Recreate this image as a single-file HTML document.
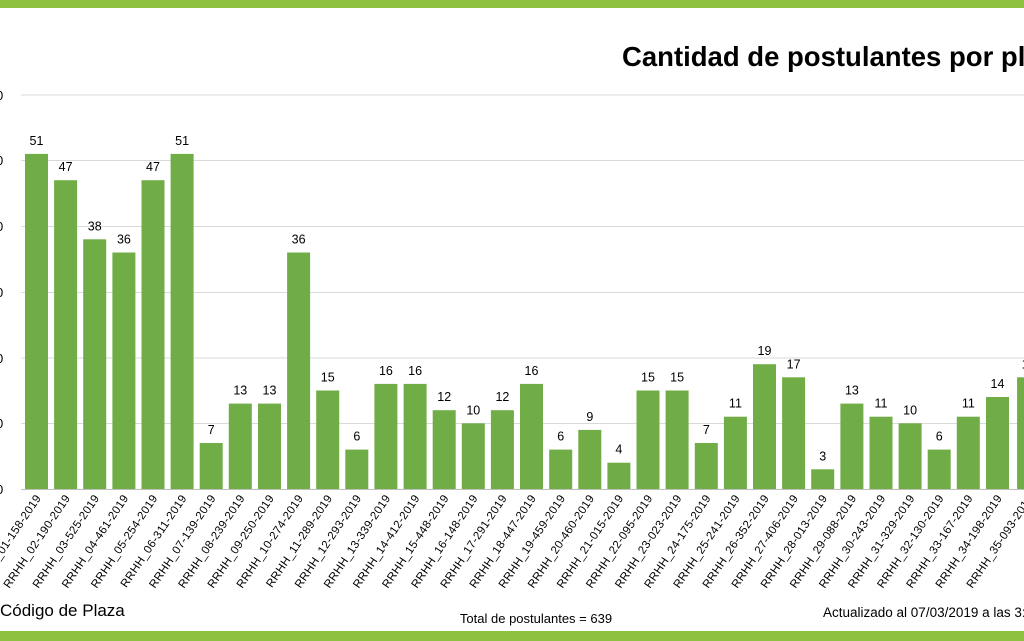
<!DOCTYPE html>
<html><head><meta charset="utf-8"><style>
html,body{margin:0;padding:0;background:#fff;overflow:hidden}
svg{display:block;font-family:"Liberation Sans",sans-serif}
.b rect{fill:#70ad47}
.v{font-size:12.5px;text-anchor:middle;fill:#000}
.l{font-size:11.5px;text-anchor:end;fill:#000;letter-spacing:0.3px}
</style></head><body>
<svg width="1024" height="641" viewBox="0 0 1024 641" xmlns="http://www.w3.org/2000/svg">
<rect x="0" y="0" width="1024" height="8" fill="#8dc13f"/>
<rect x="0" y="631" width="1024" height="10" fill="#8dc13f"/>
<text x="622" y="66" font-size="27.5" font-weight="bold" fill="#000">Cantidad de postulantes por plaza</text>
<g stroke="#d9d9d9" stroke-width="1">
<line x1="21" y1="95" x2="1024" y2="95"/><line x1="21" y1="160.5" x2="1024" y2="160.5"/>
<line x1="21" y1="226.5" x2="1024" y2="226.5"/><line x1="21" y1="292.5" x2="1024" y2="292.5"/>
<line x1="21" y1="358" x2="1024" y2="358"/><line x1="21" y1="423.5" x2="1024" y2="423.5"/>
</g>
<line x1="21" y1="489.5" x2="1024" y2="489.5" stroke="#bfbfbf"/>
<g font-size="13" fill="#000">
<text x="-4" y="100">0</text><text x="-4" y="165">0</text><text x="-4" y="231">0</text>
<text x="-4" y="297">0</text><text x="-4" y="363">0</text><text x="-4" y="428">0</text><text x="-4" y="494">0</text>
</g>
<g class="b">
<g transform="translate(36.5 0)"><rect x="-11.5" y="153.9" width="23" height="335.1"/><text class="v" y="144.9">51</text><text class="l" transform="translate(5 498) rotate(-56)">RRHH_01-158-2019</text></g>
<g transform="translate(65.6 0)"><rect x="-11.5" y="180.2" width="23" height="308.8"/><text class="v" y="171.2">47</text><text class="l" transform="translate(5 498) rotate(-56)">RRHH_02-190-2019</text></g>
<g transform="translate(94.7 0)"><rect x="-11.5" y="239.3" width="23" height="249.7"/><text class="v" y="230.3">38</text><text class="l" transform="translate(5 498) rotate(-56)">RRHH_03-525-2019</text></g>
<g transform="translate(123.9 0)"><rect x="-11.5" y="252.5" width="23" height="236.5"/><text class="v" y="243.5">36</text><text class="l" transform="translate(5 498) rotate(-56)">RRHH_04-461-2019</text></g>
<g transform="translate(153 0)"><rect x="-11.5" y="180.2" width="23" height="308.8"/><text class="v" y="171.2">47</text><text class="l" transform="translate(5 498) rotate(-56)">RRHH_05-254-2019</text></g>
<g transform="translate(182.1 0)"><rect x="-11.5" y="153.9" width="23" height="335.1"/><text class="v" y="144.9">51</text><text class="l" transform="translate(5 498) rotate(-56)">RRHH_06-311-2019</text></g>
<g transform="translate(211.2 0)"><rect x="-11.5" y="443" width="23" height="46"/><text class="v" y="434">7</text><text class="l" transform="translate(5 498) rotate(-56)">RRHH_07-139-2019</text></g>
<g transform="translate(240.3 0)"><rect x="-11.5" y="403.6" width="23" height="85.4"/><text class="v" y="394.6">13</text><text class="l" transform="translate(5 498) rotate(-56)">RRHH_08-239-2019</text></g>
<g transform="translate(269.5 0)"><rect x="-11.5" y="403.6" width="23" height="85.4"/><text class="v" y="394.6">13</text><text class="l" transform="translate(5 498) rotate(-56)">RRHH_09-250-2019</text></g>
<g transform="translate(298.6 0)"><rect x="-11.5" y="252.5" width="23" height="236.5"/><text class="v" y="243.5">36</text><text class="l" transform="translate(5 498) rotate(-56)">RRHH_10-274-2019</text></g>
<g transform="translate(327.7 0)"><rect x="-11.5" y="390.5" width="23" height="98.5"/><text class="v" y="381.5">15</text><text class="l" transform="translate(5 498) rotate(-56)">RRHH_11-289-2019</text></g>
<g transform="translate(356.8 0)"><rect x="-11.5" y="449.6" width="23" height="39.4"/><text class="v" y="440.6">6</text><text class="l" transform="translate(5 498) rotate(-56)">RRHH_12-293-2019</text></g>
<g transform="translate(385.9 0)"><rect x="-11.5" y="383.9" width="23" height="105.1"/><text class="v" y="374.9">16</text><text class="l" transform="translate(5 498) rotate(-56)">RRHH_13-339-2019</text></g>
<g transform="translate(415.1 0)"><rect x="-11.5" y="383.9" width="23" height="105.1"/><text class="v" y="374.9">16</text><text class="l" transform="translate(5 498) rotate(-56)">RRHH_14-412-2019</text></g>
<g transform="translate(444.2 0)"><rect x="-11.5" y="410.2" width="23" height="78.8"/><text class="v" y="401.2">12</text><text class="l" transform="translate(5 498) rotate(-56)">RRHH_15-448-2019</text></g>
<g transform="translate(473.3 0)"><rect x="-11.5" y="423.3" width="23" height="65.7"/><text class="v" y="414.3">10</text><text class="l" transform="translate(5 498) rotate(-56)">RRHH_16-148-2019</text></g>
<g transform="translate(502.4 0)"><rect x="-11.5" y="410.2" width="23" height="78.8"/><text class="v" y="401.2">12</text><text class="l" transform="translate(5 498) rotate(-56)">RRHH_17-291-2019</text></g>
<g transform="translate(531.5 0)"><rect x="-11.5" y="383.9" width="23" height="105.1"/><text class="v" y="374.9">16</text><text class="l" transform="translate(5 498) rotate(-56)">RRHH_18-447-2019</text></g>
<g transform="translate(560.7 0)"><rect x="-11.5" y="449.6" width="23" height="39.4"/><text class="v" y="440.6">6</text><text class="l" transform="translate(5 498) rotate(-56)">RRHH_19-459-2019</text></g>
<g transform="translate(589.8 0)"><rect x="-11.5" y="429.9" width="23" height="59.1"/><text class="v" y="420.9">9</text><text class="l" transform="translate(5 498) rotate(-56)">RRHH_20-460-2019</text></g>
<g transform="translate(618.9 0)"><rect x="-11.5" y="462.7" width="23" height="26.3"/><text class="v" y="453.7">4</text><text class="l" transform="translate(5 498) rotate(-56)">RRHH_21-015-2019</text></g>
<g transform="translate(648 0)"><rect x="-11.5" y="390.5" width="23" height="98.5"/><text class="v" y="381.5">15</text><text class="l" transform="translate(5 498) rotate(-56)">RRHH_22-095-2019</text></g>
<g transform="translate(677.1 0)"><rect x="-11.5" y="390.5" width="23" height="98.5"/><text class="v" y="381.5">15</text><text class="l" transform="translate(5 498) rotate(-56)">RRHH_23-023-2019</text></g>
<g transform="translate(706.3 0)"><rect x="-11.5" y="443" width="23" height="46"/><text class="v" y="434">7</text><text class="l" transform="translate(5 498) rotate(-56)">RRHH_24-175-2019</text></g>
<g transform="translate(735.4 0)"><rect x="-11.5" y="416.7" width="23" height="72.3"/><text class="v" y="407.7">11</text><text class="l" transform="translate(5 498) rotate(-56)">RRHH_25-241-2019</text></g>
<g transform="translate(764.5 0)"><rect x="-11.5" y="364.2" width="23" height="124.8"/><text class="v" y="355.2">19</text><text class="l" transform="translate(5 498) rotate(-56)">RRHH_26-352-2019</text></g>
<g transform="translate(793.6 0)"><rect x="-11.5" y="377.3" width="23" height="111.7"/><text class="v" y="368.3">17</text><text class="l" transform="translate(5 498) rotate(-56)">RRHH_27-406-2019</text></g>
<g transform="translate(822.7 0)"><rect x="-11.5" y="469.3" width="23" height="19.7"/><text class="v" y="460.3">3</text><text class="l" transform="translate(5 498) rotate(-56)">RRHH_28-013-2019</text></g>
<g transform="translate(851.9 0)"><rect x="-11.5" y="403.6" width="23" height="85.4"/><text class="v" y="394.6">13</text><text class="l" transform="translate(5 498) rotate(-56)">RRHH_29-088-2019</text></g>
<g transform="translate(881 0)"><rect x="-11.5" y="416.7" width="23" height="72.3"/><text class="v" y="407.7">11</text><text class="l" transform="translate(5 498) rotate(-56)">RRHH_30-243-2019</text></g>
<g transform="translate(910.1 0)"><rect x="-11.5" y="423.3" width="23" height="65.7"/><text class="v" y="414.3">10</text><text class="l" transform="translate(5 498) rotate(-56)">RRHH_31-329-2019</text></g>
<g transform="translate(939.2 0)"><rect x="-11.5" y="449.6" width="23" height="39.4"/><text class="v" y="440.6">6</text><text class="l" transform="translate(5 498) rotate(-56)">RRHH_32-130-2019</text></g>
<g transform="translate(968.3 0)"><rect x="-11.5" y="416.7" width="23" height="72.3"/><text class="v" y="407.7">11</text><text class="l" transform="translate(5 498) rotate(-56)">RRHH_33-167-2019</text></g>
<g transform="translate(997.5 0)"><rect x="-11.5" y="397" width="23" height="92"/><text class="v" y="388">14</text><text class="l" transform="translate(5 498) rotate(-56)">RRHH_34-198-2019</text></g>
<g transform="translate(1028.6 0)"><rect x="-11.5" y="377.3" width="23" height="111.7"/><text class="v" y="368.3">17</text><text class="l" transform="translate(5 498) rotate(-56)">RRHH_35-093-2019</text></g>
</g>
<text x="0" y="616" font-size="17" fill="#000">Código de Plaza</text>
<text x="536" y="623" font-size="13" text-anchor="middle" fill="#000">Total de postulantes = 639</text>
<text x="823" y="617" font-size="13.5" fill="#000">Actualizado al 07/03/2019 a las 3:45</text>
</svg>
</body></html>
